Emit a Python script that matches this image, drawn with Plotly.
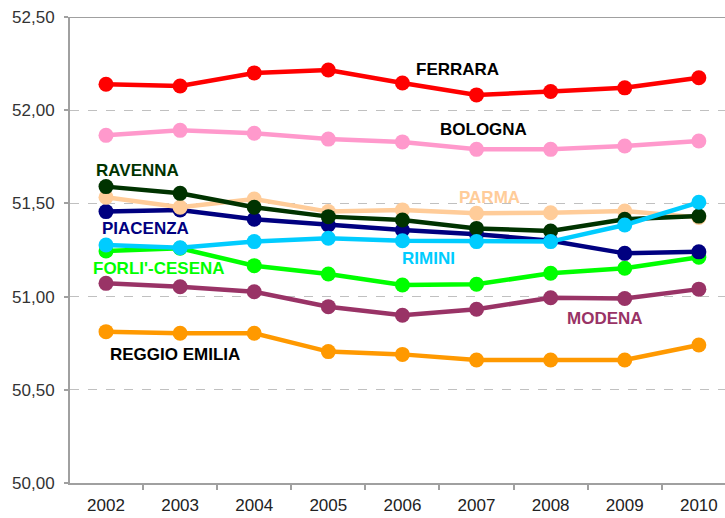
import plotly.graph_objects as go

years = ["2002", "2003", "2004", "2005", "2006", "2007", "2008", "2009", "2010"]

ferrara = [52.139, 52.130, 52.200, 52.216, 52.146, 52.082, 52.100, 52.120, 52.174]
bologna = [51.865, 51.892, 51.876, 51.845, 51.830, 51.790, 51.790, 51.808, 51.835]
ravenna = [51.590, 51.554, 51.479, 51.429, 51.411, 51.366, 51.352, 51.415, 51.432]
parma = [51.533, 51.479, 51.524, 51.456, 51.465, 51.447, 51.450, 51.459, 51.425]
piacenza = [51.456, 51.465, 51.415, 51.384, 51.357, 51.335, 51.300, 51.232, 51.240]
rimini = [51.277, 51.262, 51.295, 51.313, 51.300, 51.295, 51.295, 51.384, 51.506]
forli_cesena = [51.245, 51.259, 51.166, 51.121, 51.062, 51.066, 51.125, 51.152, 51.211]
modena = [51.071, 51.053, 51.026, 50.946, 50.900, 50.932, 50.994, 50.990, 51.040]
reggio_emilia = [50.812, 50.803, 50.803, 50.705, 50.690, 50.660, 50.660, 50.660, 50.740]

y_ticks = [50.0, 50.5, 51.0, 51.5, 52.0, 52.5]

x = list(range(len(years)))

# drawing order: bottom to top
series = [
    ("REGGIO EMILIA", reggio_emilia, "#FF9900"),
    ("MODENA", modena, "#993366"),
    ("FORLI'-CESENA", forli_cesena, "#00FF00"),
    ("PIACENZA", piacenza, "#000080"),
    ("PARMA", parma, "#FFCC99"),
    ("RAVENNA", ravenna, "#003300"),
    ("RIMINI", rimini, "#00CCFF"),
    ("BOLOGNA", bologna, "#FF99CC"),
    ("FERRARA", ferrara, "#FF0000"),
]

fig = go.Figure()
for name, vals, col in series:
    fig.add_trace(go.Scatter(
        x=x, y=vals, mode="lines+markers", name=name,
        line=dict(color=col, width=4.5),
        marker=dict(color=col, size=15),
        cliponaxis=False,
        showlegend=False,
    ))

labels = [
    ("FERRARA", 4.74, 52.216, "#000000"),
    ("BOLOGNA", 5.10, 51.894, "#000000"),
    ("RAVENNA", 0.42, 51.674, "#003300"),
    ("PARMA", 5.17, 51.534, "#FFCC99"),
    ("PIACENZA", 0.53, 51.368, "#000080"),
    ("RIMINI", 4.35, 51.207, "#00CCFF"),
    ("FORLI'-CESENA", 0.72, 51.153, "#00FF00"),
    ("MODENA", 6.73, 50.880, "#993366"),
    ("REGGIO EMILIA", 0.93, 50.692, "#000000"),
]
for txt, lx, ly, col in labels:
    fig.add_annotation(
        x=lx, y=ly, text="<b>" + txt + "</b>", showarrow=False,
        font=dict(family="Liberation Sans, Arial, sans-serif", size=17, color=col),
        xanchor="center", yanchor="middle",
    )

fig.update_layout(
    width=725, height=518,
    margin=dict(l=70, r=0, t=17, b=35),
    plot_bgcolor="white", paper_bgcolor="white",
    separators=", ",
    font=dict(family="Liberation Sans, Arial, sans-serif", size=16, color="#333333"),
    xaxis=dict(
        range=[-0.486, 8.353],
        tickmode="array", tickvals=x, ticktext=years,
        ticks="", showgrid=False, zeroline=False,
        showline=True, linecolor="#A0A0A0", linewidth=2,
        tickfont=dict(size=17, color="#222222"),
        ticklabelstandoff=6,
        minor=dict(tickmode="array", tickvals=[i + 0.5 for i in range(-1, 9)],
                   ticks="outside", ticklen=5, tickcolor="#A0A0A0", tickwidth=1.5,
                   showgrid=False),
    ),
    yaxis=dict(
        range=[50.0, 52.5],
        tickmode="array", tickvals=y_ticks, tickformat=".2f",
        ticks="outside", ticklen=4, tickcolor="#A0A0A0", tickwidth=1.5,
        showline=True, linecolor="#A0A0A0", linewidth=2,
        showgrid=True, gridcolor="#C0C0C0", griddash="dash", gridwidth=1,
        zeroline=False,
        tickfont=dict(size=17, color="#333333"),
        ticklabelstandoff=6,
    ),
)
fig.add_shape(type="line", xref="paper", yref="y", x0=0, x1=1, y0=52.5, y1=52.5,
              line=dict(color="#A0A0A0", width=2))

fig.write_html("out.html", config={"displayModeBar": False},
               post_script="document.body.style.margin='0';document.body.style.padding='0';")
